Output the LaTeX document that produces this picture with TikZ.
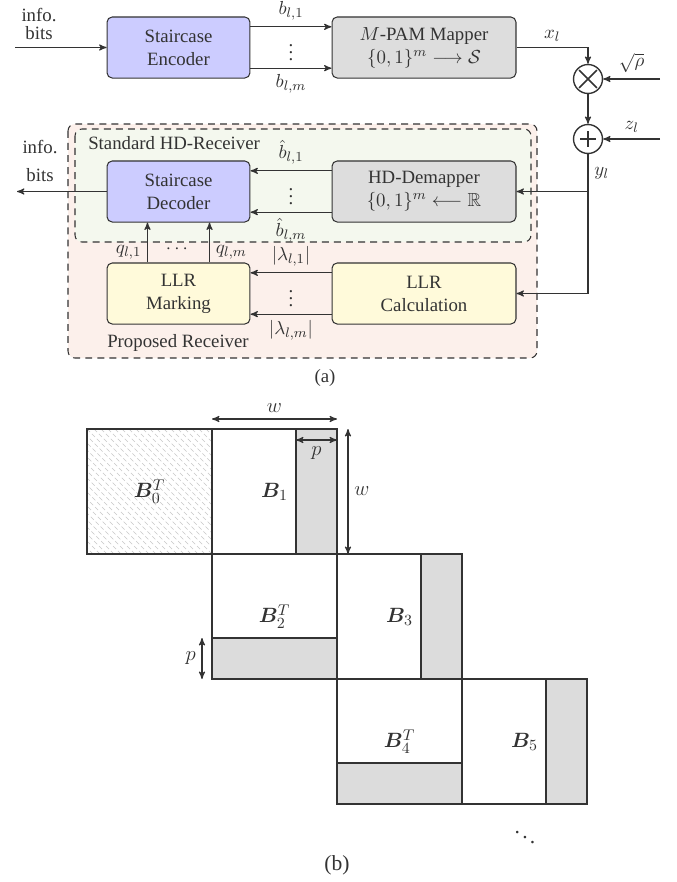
\documentclass[tikz,border=0pt]{standalone}
\usepackage{amsmath,amssymb,bm}
\usepackage{fontspec}
\setmainfont{Liberation Serif}
\usetikzlibrary{%
  arrows,%
  calc,%
  positioning%
}

\definecolor{encblue}{RGB}{204,204,255}
\definecolor{mapgray}{RGB}{221,221,221}
\definecolor{llryellow}{RGB}{255,250,218}
\definecolor{hdgreen}{RGB}{244,248,238}
\definecolor{rxpink}{RGB}{252,240,235}
\definecolor{stripgray}{RGB}{220,220,220}

\tikzset{
  blk/.style={draw, rounded corners=3pt, align=center, minimum height=35.4pt, inner sep=2pt},
  smallblk/.style={blk, minimum width=82.9pt},
  bigblk/.style={blk, minimum width=106.7pt},
  opnode/.style={draw, circle, minimum size=16.8pt, line width=0.8pt, inner sep=0pt},
  rxarea/.style={draw, dash pattern=on 4pt off 3pt, rounded corners=4pt},
  dots/.style={inner sep=0pt},
  blkfont/.style={font=\fontsize{12.5}{15}\selectfont},
}

\begin{document}
\begin{tikzpicture}[
  x=0.58pt, y=-0.58pt,
  font=\fontsize{10.9}{13.3}\selectfont,
  >=stealth',
  line width=0.6pt,
  color=black!80,
]
\useasboundingbox (0,0) rectangle (677,882);

% receiver areas
\draw[rxarea, fill=rxpink] (68,124) rectangle (537,358);
\draw[rxarea, fill=hdgreen] (75,129) rectangle (531,242);
\node[anchor=west] (hdrx) at (82,143) {Standard HD-Receiver};
\node (proprx) at (178,343) {Proposed Receiver};

% blocks
\node[smallblk, fill=encblue] (enc) at (178.5,47.5) {Staircase\\Encoder};
\node[bigblk, fill=mapgray] (map) at (424,47.5) {$M$-PAM Mapper\\$\{0,1\}^m \longrightarrow \mathcal{S}$};
\node[opnode] (mul) at (588,79) {};
\node[opnode] (add) at (588,139) {};
\node[smallblk, fill=encblue] (dec) at (178.5,191.5) {Staircase\\Decoder};
\node[bigblk, fill=mapgray] (dem) at (424,191.5) {HD-Demapper\\$\{0,1\}^m \longleftarrow \mathbb{R}$};
\node[smallblk, fill=llryellow] (mark) at (178.5,293.5) {LLR\\Marking};
\node[bigblk, fill=llryellow] (calc) at (424,293.5) {LLR\\Calculation};

\draw[line width=0.9pt, shorten <=1.5pt, shorten >=1.5pt] (mul.45) -- (mul.225);
\draw[line width=0.9pt, shorten <=1.5pt, shorten >=1.5pt] (mul.135) -- (mul.315);
\draw[line width=0.9pt, shorten <=4.2pt, shorten >=4.2pt] (add.north) -- (add.south);
\draw[line width=0.9pt, shorten <=4.2pt, shorten >=4.2pt] (add.west) -- (add.east);

% transmitter
\coordinate (bitsin) at (15,47.5);
\node[align=center] (inlbl) at (39,24) {info.\\[-2.6pt]bits};
\draw[->] (bitsin) -- (enc.west);
\draw[->] ([yshift=12pt]enc.east) -- node[above] (b1) {$b_{l,1}$} ([yshift=12pt]map.west);
\draw[->] ([yshift=-12pt]enc.east) -- node[below] (bm) {$b_{l,m}$} ([yshift=-12pt]map.west);
\node[dots] (vd1) at ($(enc.east)!.5!(map.west)$) {$\vdots$};

% channel
\draw[->] (map.east) -| node[pos=.25, above] (xl) {$x_l$} (mul.north);
\coordinate (rhoin) at (660,79);
\draw[->] (rhoin) -- node[above] (rho) {$\sqrt{\rho}$} (mul.east);
\draw[->] (mul.south) -- (add.north);
\coordinate (zin) at (660,139);
\draw[->] (zin) -- node[above] (zl) {$z_l$} (add.east);
\draw[->] (add.south) |- node[pos=.07, right] (yl) {$y_l$} (calc.east);
\draw[->] (add.south |- dem.east) -- (dem.east);

% receiver
\draw[->] ([yshift=12pt]dem.west) -- node[above] (bh1) {$\hat{b}_{l,1}$} ([yshift=12pt]dec.east);
\draw[->] ([yshift=-12pt]dem.west) -- node[below] (bhm) {$\hat{b}_{l,m}$} ([yshift=-12pt]dec.east);
\node[dots] (vd2) at ($(dec.east)!.5!(dem.west)$) {$\vdots$};

\draw[->] ([yshift=12pt]calc.west) -- node[above] (lam1) {$|\lambda_{l,1}|$} ([yshift=12pt]mark.east);
\draw[->] ([yshift=-12pt]calc.west) -- node[below] (lamm) {$|\lambda_{l,m}|$} ([yshift=-12pt]mark.east);
\node[dots] (vd3) at ($(mark.east)!.5!(calc.west)$) {$\vdots$};

\draw[->] ([xshift=-18pt]mark.north) -- node[pos=.25, left] (q1) {$q_{l,1}$} ([xshift=-18pt]dec.south);
\draw[->] ([xshift=18pt]mark.north) -- node[pos=.25, right] (qm) {$q_{l,m}$} ([xshift=18pt]dec.south);
\node[dots] (hd) at ($(mark.north)!.32!(dec.south)$) {$\cdots$};

\coordinate (bitsout) at (17,191.5);
\draw[->] (dec.west) -- (bitsout);
\node[align=center] (outlbl) at (40,161) {info.\\[2.5pt]bits};

\node (capa) at (325,378) {(a)};

% staircase code blocks
\begin{scope}
  \clip (87,429) rectangle (212,554);
  \foreach \s in {-126,-119,...,126} {
    \draw[black!22, line width=0.4pt, dash pattern=on 2.5pt off 1.5pt] (87+\s,429) -- ++(125,125);
  }
\end{scope}
\draw (87,429) rectangle (212,554);
\node[blkfont] (B0) at (149.5,491.5) {$\bm{B}_0^T$};
\foreach \k/\i in {0/1,1/3,2/5} {
  \fill[stripgray] (125*\k+296,125*\k+429) rectangle (125*\k+337,125*\k+554);
  \draw (125*\k+212,125*\k+429) rectangle (125*\k+337,125*\k+554);
  \draw (125*\k+296,125*\k+429) -- (125*\k+296,125*\k+554);
  \node[blkfont] (B\i) at (125*\k+274.5,125*\k+491.5) {$\bm{B}_{\i}$};
}
\foreach \k/\i in {0/2,1/4} {
  \fill[stripgray] (125*\k+212,125*\k+638) rectangle (125*\k+337,125*\k+679);
  \draw (125*\k+212,125*\k+554) rectangle (125*\k+337,125*\k+679);
  \draw (125*\k+212,125*\k+638) -- (125*\k+337,125*\k+638);
  \node[blkfont] (B\i) at (125*\k+274.5,125*\k+616.5) {$\bm{B}_{\i}^T$};
}

% dimensions
\draw[<->] (212,419) -- node[above, blkfont] (wtop) {$w$} (337,419);
\draw[<->] (296,440) -- node[below, blkfont] (ptop) {$p$} (337,440);
\draw[<->] (348,429) -- node[right, blkfont] (wside) {$w$} (348,554);
\draw[<->] (202,638) -- node[left, blkfont] (pside) {$p$} (202,679);

\node[blkfont] (more) at (525,832) {$\ddots$};
\node[blkfont] (capb) at (337,865) {(b)};
\end{tikzpicture}
\end{document}
